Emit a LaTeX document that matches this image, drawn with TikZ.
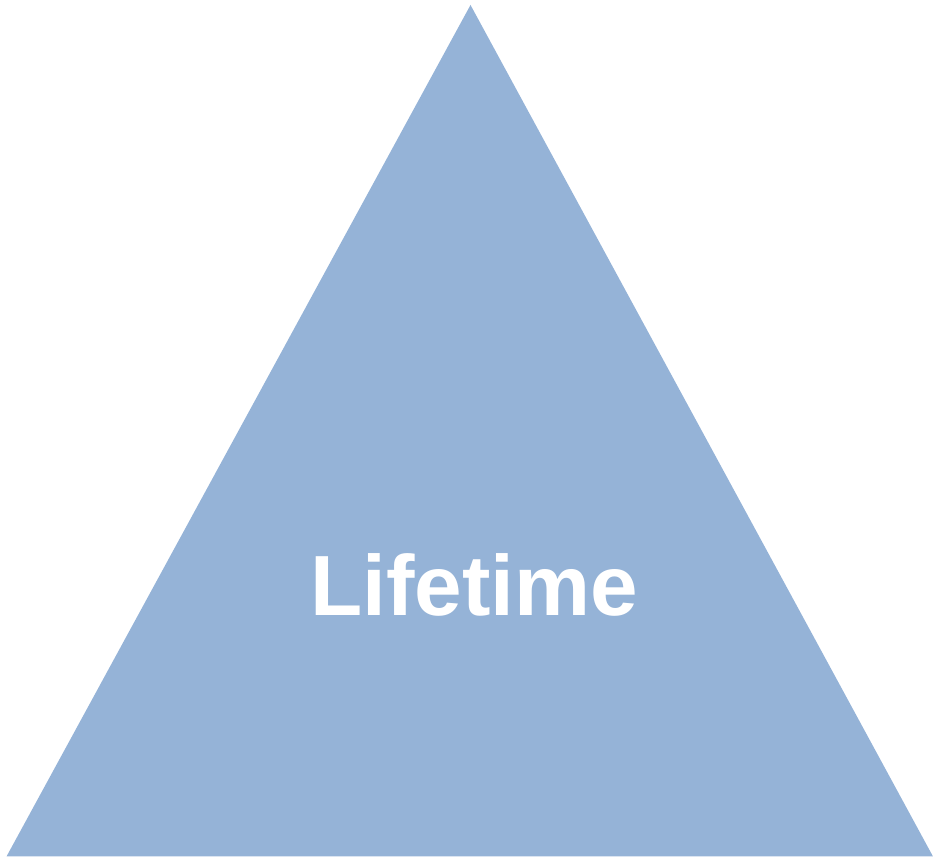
\documentclass[tikz,border=0pt]{standalone}
\usepackage{fontspec}
\setmainfont{Liberation Sans}
\definecolor{triblue}{HTML}{95B3D7}
\begin{document}
\begin{tikzpicture}[x=1pt,y=1pt,
  tri/.style={fill=triblue,draw=none},
  lbl/.style={text=white,font=\fontsize{85.5}{85.5}\selectfont\bfseries,inner sep=0pt,anchor=base}]
\useasboundingbox (0,0) rectangle (933,858);
\coordinate (apex) at (470.5,853);
\coordinate (bl) at (6.5,1.5);
\coordinate (br) at (933,1.5);
\fill[tri] (apex) -- (br) -- (bl) -- cycle;
\node[lbl] (label) at (474,242) {Lifetime};
\end{tikzpicture}
\end{document}
